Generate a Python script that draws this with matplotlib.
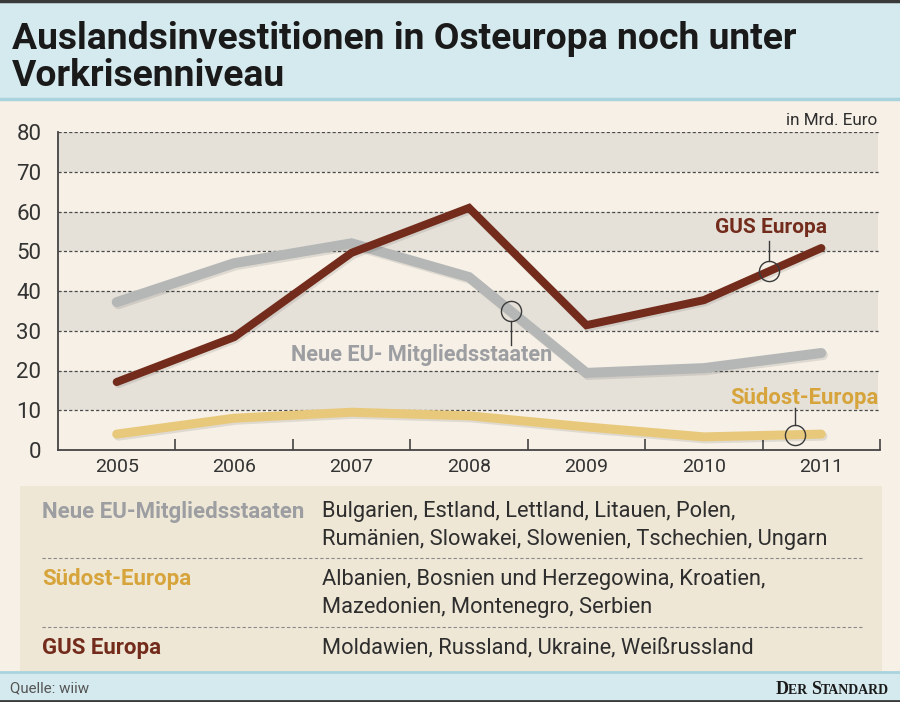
import numpy as np
import matplotlib
matplotlib.use("Agg")
import matplotlib.pyplot as plt
from matplotlib.patches import Rectangle
import matplotlib.patheffects as pe

# ---------------- data ----------------
years = ["2005", "2006", "2007", "2008", "2009", "2010", "2011"]
neue_eu = [37.2, 47.0, 52.0, 43.5, 19.4, 20.6, 24.4]
gus_europa = [17.1, 28.4, 49.6, 60.9, 31.4, 37.7, 50.8]
suedost = [4.0, 8.0, 9.5, 8.6, 5.8, 3.3, 4.0]
yticks = [0, 10, 20, 30, 40, 50, 60, 70, 80]

title_lines = ["Auslandsinvestitionen in Osteuropa noch unter", "Vorkrisenniveau"]
unit_label = "in Mrd. Euro"
table_names = ["Neue EU-Mitgliedsstaaten", "Südost-Europa", "GUS Europa"]
table_countries = [
    ["Bulgarien, Estland, Lettland, Litauen, Polen,",
     "Rumänien, Slowakei, Slowenien, Tschechien, Ungarn"],
    ["Albanien, Bosnien und Herzegowina, Kroatien,",
     "Mazedonien, Montenegro, Serbien"],
    ["Moldawien, Russland, Ukraine, Weißrussland"],
]
source = "Quelle: wiiw"
brand_parts = [("D", 13), ("ER ", 10), ("S", 13), ("TANDARD", 10)]

# ---------------- style ----------------
W, H = 900, 702
BG = "#f6f0e6"
BAND = "#d5eaee"
BAND_LINE = "#a9d4de"
GRAYBAND = "#e5e1d9"
TABLE_BG = "#efe7d6"
C_GRAY = "#b5b7b6"
C_GRAY_TXT = "#9c9ea1"
C_BROWN = "#732c1c"
C_YELLOW = "#e8c97c"
C_GOLD = "#d6a43a"
C_TXT = "#2e2e2e"

FAM = ["Roboto", "DejaVu Sans"]
plt.rcParams["font.family"] = FAM

fig = plt.figure(figsize=(W / 100, H / 100), dpi=100, facecolor=BG)
renderer = fig.canvas.get_renderer()


def P(x, y):
    return (x / W, 1 - y / H)


def fit(t, width_px, max_size):
    t.set_fontsize(max_size)
    w = t.get_window_extent(renderer).width
    if w > width_px:
        t.set_fontsize(max_size * width_px / w)
    return t


# title band
fig.patches.append(Rectangle(P(0, 99), 1, 99 / H, transform=fig.transFigure,
                             facecolor=BAND, edgecolor="none", zorder=0))
fig.lines.append(plt.Line2D([0, 1], [1 - 99 / H] * 2, transform=fig.transFigure,
                            color=BAND_LINE, lw=2.5))
fig.lines.append(plt.Line2D([0, 1], [1 - 1 / H] * 2, transform=fig.transFigure,
                            color="#3a3a3a", lw=2.5))
t1 = fig.text(*P(12, 49), title_lines[0], fontweight="bold", color="#1a1a1a",
              ha="left", va="baseline")
fit(t1, 785, 30)
t2 = fig.text(*P(12, 86), title_lines[1], fontweight="bold", color="#1a1a1a",
              ha="left", va="baseline", fontsize=t1.get_fontsize())

# footer band
fig.patches.append(Rectangle((0, 0), 1, 30 / H, transform=fig.transFigure,
                             facecolor=BAND, edgecolor="none", zorder=0))
fig.lines.append(plt.Line2D([0, 1], [30 / H] * 2, transform=fig.transFigure,
                            color=BAND_LINE, lw=2))
fig.lines.append(plt.Line2D([0, 1], [1 / H] * 2, transform=fig.transFigure,
                            color="#3a3a3a", lw=2))
ts = fig.text(*P(10, 688), source, color="#555555", ha="left", va="center")
fit(ts, 80, 11.5)

# brand in small caps, right aligned at x=889
pieces = []
for txt, sz in brand_parts:
    t = fig.text(*P(0, 694), txt, color="#1a1a1a", ha="left", va="baseline",
                 fontweight="bold", fontsize=sz, family=["Liberation Serif", "DejaVu Serif"])
    pieces.append(t)
widths = [t.get_window_extent(renderer).width for t in pieces]
xstart = 889 - sum(widths)
for t, w in zip(pieces, widths):
    t.set_position(P(xstart, 694))
    xstart += w

# table box
fig.patches.append(Rectangle(P(20, 671), 862 / W, (671 - 486) / H, transform=fig.transFigure,
                             facecolor=TABLE_BG, edgecolor="none", zorder=0))
row_y = [(512, 540), (579, 607), (648,)]
row_colors = [C_GRAY_TXT, C_GOLD, C_BROWN]
name_texts, country_texts = [], []
for name, lines, ys, col in zip(table_names, table_countries, row_y, row_colors):
    tn = fig.text(*P(42, ys[0]), name, color=col, fontweight="bold", ha="left", va="center")
    name_texts.append(tn)
    for ln, yy in zip(lines, ys):
        tl = fig.text(*P(322, yy), ln, color=C_TXT, ha="left", va="center")
        country_texts.append(tl)
fit(name_texts[0], 262, 16)
for t in name_texts[1:]:
    t.set_fontsize(name_texts[0].get_fontsize())
fit(country_texts[1], 505, 16)
for t in country_texts:
    t.set_fontsize(country_texts[1].get_fontsize())

for yy in (558, 627):
    fig.lines.append(plt.Line2D([42 / W, 862 / W], [1 - yy / H] * 2, transform=fig.transFigure,
                                color="#8a8a8a", lw=0.8, ls=(0, (3, 2))))

# ---------------- chart ----------------
ax = fig.add_axes([58 / W, (H - 450) / H, 822 / W, 318 / H])
ax.set_facecolor("none")
x = np.arange(len(years))
ax.set_xlim(-0.5, len(years) - 0.5)
ax.set_ylim(0, 80)
px_per_unit = 318 / 80.0

xr = (878 - 58) / 822
for lo in range(10, 80, 20):
    ax.axhspan(lo, lo + 10, xmin=0, xmax=xr, color=GRAYBAND, lw=0, zorder=0)
for v in yticks[1:]:
    ax.axhline(v, color="#4a4a4a", lw=0.9, ls=(0, (2.5, 1.8)), zorder=1)

for s in ["top", "right"]:
    ax.spines[s].set_visible(False)
for s in ["left", "bottom"]:
    ax.spines[s].set_color("#444444")
    ax.spines[s].set_linewidth(1.3)
    ax.spines[s].set_zorder(5)

ax.set_xticks(x)
ax.set_xticklabels(years)
ax.set_xticks(np.arange(0.5, len(years)), minor=True)
ax.tick_params(axis="x", which="major", length=0, pad=6, labelsize=14, labelcolor="#333333")
ax.tick_params(axis="x", which="minor", length=8, width=1.2, direction="in", color="#444444")
ax.set_yticks(yticks)
ax.tick_params(axis="y", length=0, pad=12, labelsize=16, labelcolor="#333333")

shadow = [pe.SimpleLineShadow(offset=(1.2, -1.5), shadow_color="black", alpha=0.09), pe.Normal()]
ax.plot(x, neue_eu, color=C_GRAY, lw=7.2, solid_capstyle="round", solid_joinstyle="miter",
        zorder=3, path_effects=shadow)
ax.plot(x, suedost, color=C_YELLOW, lw=6.5, solid_capstyle="round", solid_joinstyle="miter",
        zorder=3, path_effects=shadow)
ax.plot(x, gus_europa, color=C_BROWN, lw=5.8, solid_capstyle="round", solid_joinstyle="miter",
        zorder=4, path_effects=shadow)

tu = ax.text(len(years) - 0.52, 80.9, unit_label, ha="right", va="bottom",
             color=C_TXT, clip_on=False)
fit(tu, 92, 12.5)

# callouts
r = 10 / px_per_unit


def callout(series, xpos, y_end, color, label, lx, ly, ha, width):
    yv = float(np.interp(xpos, x, series))
    ax.plot([xpos], [yv], marker="o", ms=14.5, mfc="none", mec="#3a3a3a", mew=1.0, zorder=6)
    y0 = yv + r if y_end > yv else yv - r
    ax.plot([xpos, xpos], [y0, y_end], color="#3a3a3a", lw=1.0, zorder=6)
    t = ax.text(lx, ly, label, color=color, fontweight="bold", ha=ha, va="center", zorder=7)
    fit(t, width, 17)
    return t


callout(gus_europa, 5.555, 52.6, C_BROWN, "GUS Europa", 5.57, 55.9, "center", 112)
callout(neue_eu, 3.358, 26.4, C_GRAY_TXT, "Neue EU- Mitgliedsstaaten", 2.6, 23.9, "center", 262)
callout(suedost, 5.776, 10.6, C_GOLD, "Südost-Europa", 6.485, 13.2, "right", 148)

fig.savefig("out.png", dpi=100, facecolor=BG)
